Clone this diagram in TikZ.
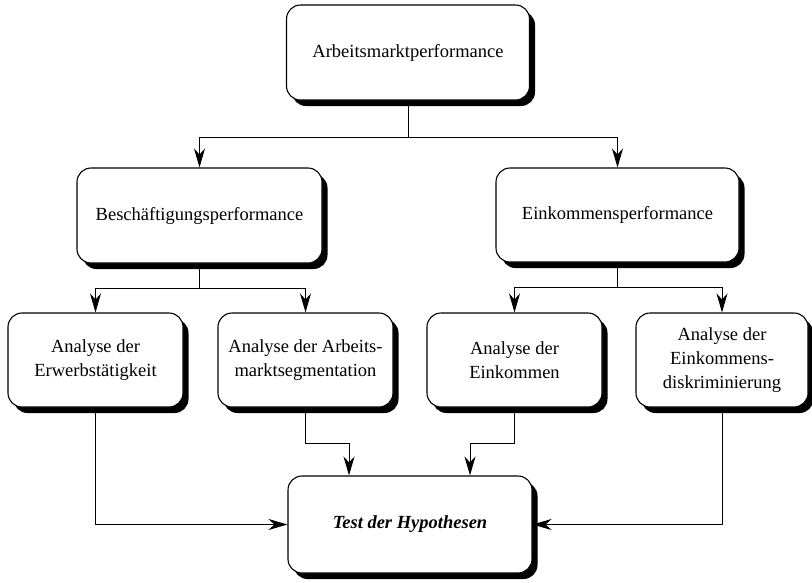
\documentclass[tikz,border=0pt]{standalone}
\usepackage{fontspec}
\setmainfont{Liberation Serif}
\usetikzlibrary{shadows,arrows.meta}
\begin{document}
\begin{tikzpicture}[x=1pt,y=-1pt,
  box/.style={draw=black, line width=1.1pt, fill=white, rounded corners=14pt,
    align=center, font=\fontsize{18.5}{24}\selectfont, inner sep=2pt,
    drop shadow={shadow xshift=5.5pt, shadow yshift=-6pt, fill=black, opacity=1}},
  conn/.style={line width=1pt},
  arr/.style={conn, -{Stealth[length=19pt,width=11pt,inset=6pt]}}]
\useasboundingbox (0,0) rectangle (812,582);
\node[box, minimum width=243pt, minimum height=95pt] (A) at (408,52.5) {Arbeitsmarktperformance};
\node[box, minimum width=245pt, minimum height=95pt] (B) at (199.5,215.5) {Beschäftigungsperformance};
\node[box, minimum width=243pt, minimum height=94pt] (C) at (617.5,215) {Einkommensperformance};
\node[box, minimum width=175pt, minimum height=94pt] (D1) at (95.5,360) {Analyse der\\Erwerbstätigkeit};
\node[box, minimum width=175pt, minimum height=94pt] (D2) at (305.5,360) {Analyse der Arbeits-\\marktsegmentation};
\node[box, minimum width=175pt, minimum height=94pt] (D3) at (514.5,360) {Analyse der\\Einkommen};
\node[box, minimum width=172pt, minimum height=94pt] (D4) at (722,360) {Analyse der\\Einkommens-\\diskriminierung};
\node[box, minimum width=244pt, minimum height=97pt, font=\fontsize{18.5}{24}\selectfont\bfseries\itshape] (T) at (410,524.5) {Test der Hypothesen};
% connectors
\draw[arr] (A.south) -- ++(0,37) -| (B.north);
\draw[arr] (A.south) -- ++(0,37) -| (C.north);
\draw[arr] (B.south) -- ++(0,25) -| (D1.north);
\draw[arr] (B.south) -- ++(0,25) -| (D2.north);
\draw[arr] (C.south) -- ++(0,25) -| (D3.north);
\draw[arr] (C.south) -- ++(0,25) -| (D4.north);
\draw[arr] (D1.south) |- (T.west);
\draw[arr] (D4.south) |- (T.east);
\draw[arr] (D2.south) -- ++(0,36) -| ([xshift=-61pt]T.north);
\draw[arr] (D3.south) -- ++(0,36) -| ([xshift=60pt]T.north);
\end{tikzpicture}
\end{document}
